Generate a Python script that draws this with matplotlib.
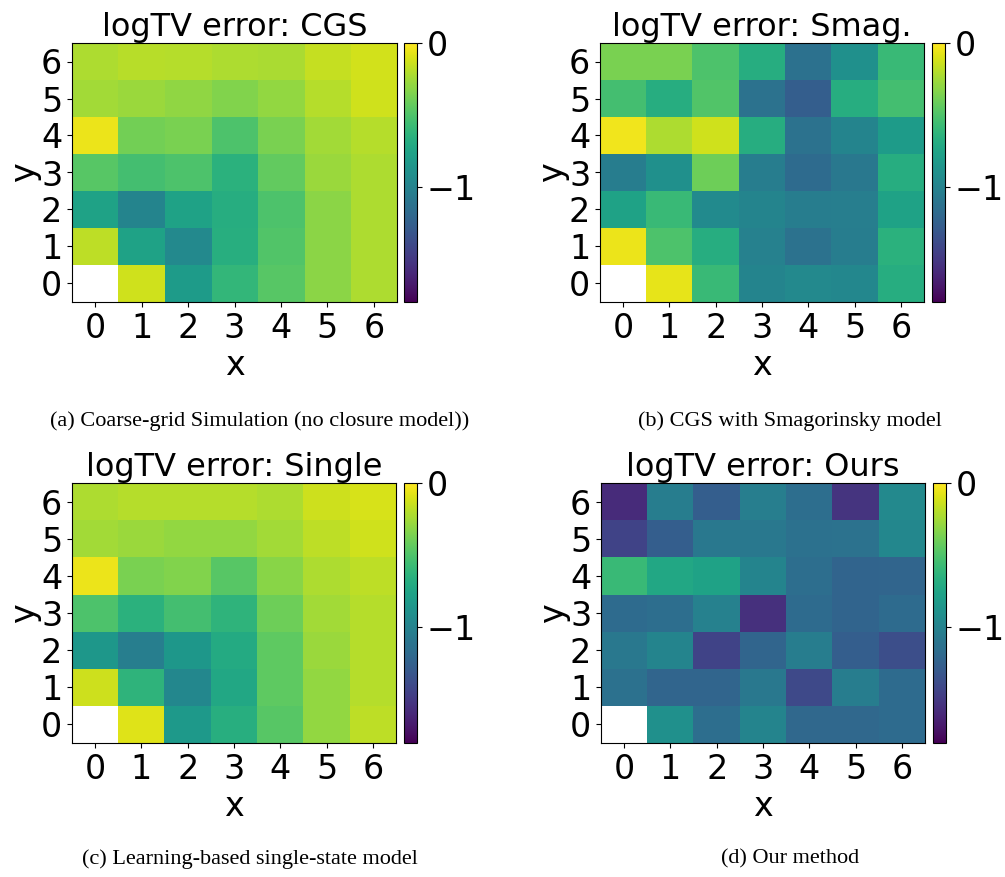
import numpy as np
import matplotlib
matplotlib.use('Agg')
import matplotlib.pyplot as plt

plt.rcParams.update({
    'font.family': 'DejaVu Sans',
    'font.size': 24,
    'axes.linewidth': 0.8,
})

# ── Data: logTV error per (x, y) cell, rows listed from y=0 upward ──
nan = np.nan
cgs = [
    [nan, -0.13, -0.81, -0.61, -0.47, -0.31, -0.22],
    [-0.18, -0.76, -0.95, -0.67, -0.49, -0.31, -0.22],
    [-0.76, -0.99, -0.76, -0.68, -0.50, -0.31, -0.22],
    [-0.47, -0.54, -0.50, -0.65, -0.43, -0.27, -0.22],
    [-0.05, -0.38, -0.36, -0.50, -0.36, -0.25, -0.20],
    [-0.25, -0.27, -0.30, -0.34, -0.29, -0.20, -0.13],
    [-0.22, -0.19, -0.20, -0.22, -0.23, -0.16, -0.12],
]
smag = [
    [nan, -0.07, -0.58, -0.99, -0.95, -0.97, -0.68],
    [-0.05, -0.50, -0.68, -1.01, -1.12, -1.04, -0.65],
    [-0.76, -0.58, -0.94, -0.99, -1.04, -1.03, -0.76],
    [-1.04, -0.90, -0.40, -1.04, -1.17, -1.08, -0.68],
    [-0.04, -0.22, -0.13, -0.68, -1.12, -0.99, -0.81],
    [-0.54, -0.68, -0.49, -1.12, -1.26, -0.68, -0.54],
    [-0.36, -0.36, -0.50, -0.68, -1.13, -0.90, -0.58],
]
single = [
    [nan, -0.09, -0.83, -0.67, -0.47, -0.29, -0.18],
    [-0.14, -0.63, -0.97, -0.72, -0.45, -0.29, -0.20],
    [-0.85, -1.03, -0.85, -0.70, -0.45, -0.27, -0.20],
    [-0.50, -0.65, -0.54, -0.63, -0.40, -0.25, -0.20],
    [-0.05, -0.36, -0.34, -0.47, -0.32, -0.22, -0.18],
    [-0.25, -0.27, -0.29, -0.29, -0.25, -0.18, -0.13],
    [-0.22, -0.20, -0.20, -0.20, -0.22, -0.14, -0.11],
]
ours = [
    [nan, -0.90, -1.15, -0.99, -1.19, -1.19, -1.17],
    [-1.13, -1.21, -1.21, -1.08, -1.40, -1.04, -1.17],
    [-1.08, -0.99, -1.44, -1.21, -1.04, -1.26, -1.37],
    [-1.17, -1.15, -1.01, -1.55, -1.17, -1.22, -1.17],
    [-0.58, -0.72, -0.76, -0.99, -1.15, -1.22, -1.21],
    [-1.44, -1.26, -1.08, -1.08, -1.13, -1.12, -0.97],
    [-1.58, -1.04, -1.26, -1.03, -1.15, -1.53, -0.95],
]
titles = ['logTV error: CGS', 'logTV error: Smag.',
          'logTV error: Single', 'logTV error: Ours']
captions = ['(a) Coarse-grid Simulation (no closure model))',
            '(b) CGS with Smagorinsky model',
            '(c) Learning-based single-state model',
            '(d) Our method']
ticks = list(range(7))

W, H = 1005, 877
fig = plt.figure(figsize=(W / 100, H / 100), dpi=100)

# pixel boxes: (left, top, right, bottom) for heatmap; colorbar x range; caption centre
panels = [
    ((72, 43, 397, 302), (404, 417), 260, 421),
    ((600, 43, 924, 302), (932, 945), 790, 421),
    ((72, 483, 396, 743), (404, 417), 250, 859),
    ((601, 483, 925, 743), (933, 946), 790, 859),
]

def px_box(l, t, r, b):
    return [l / W, 1 - b / H, (r - l) / W, (b - t) / H]

for data, title, cap, (box, cbx, capx, capy) in zip(
        [cgs, smag, single, ours], titles, captions, panels):
    ax = fig.add_axes(px_box(*box))
    im = ax.imshow(np.array(data), origin='lower', cmap='viridis',
                   vmin=-1.8, vmax=0, aspect='auto', interpolation='nearest')
    ax.set_xticks(ticks)
    ax.set_yticks(ticks)
    ax.set_xlabel('x', labelpad=3)
    ax.set_ylabel('y', labelpad=0)
    ax.set_title(title, fontsize=23, pad=3)
    cax = fig.add_axes(px_box(cbx[0], box[1], cbx[1], box[3]))
    cb = fig.colorbar(im, cax=cax, ticks=[0, -1])
    cb.outline.set_linewidth(0.8)
    fig.text(capx / W, 1 - capy / H, cap, ha='center', va='center',
             fontsize=16, family='Liberation Serif')

fig.savefig('out.png', dpi=100, facecolor='white')
